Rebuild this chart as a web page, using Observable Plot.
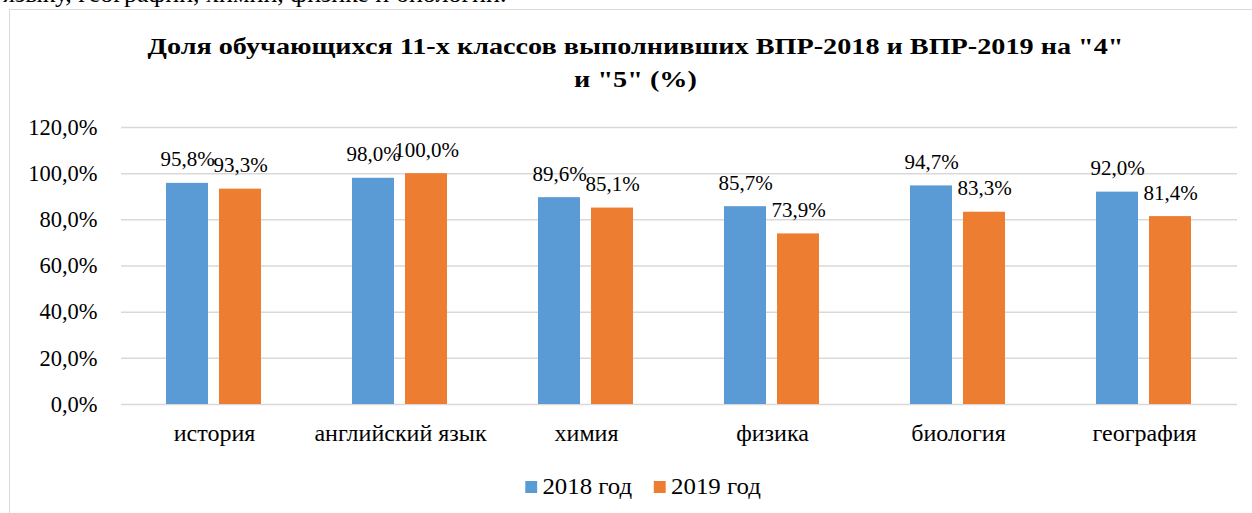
<!DOCTYPE html>
<html>
<head>
<meta charset="utf-8">
<script src="https://cdn.jsdelivr.net/npm/d3@7"></script>
<script src="https://cdn.jsdelivr.net/npm/@observablehq/plot@0.6"></script>
<style>
  html, body { margin: 0; padding: 0; background: #fff; overflow: hidden; width: 1252px; height: 513px; }
  body { position: relative; font-family: "Liberation Serif", "Times New Roman", serif; }
  #prev { position: absolute; left: 3px; top: -21px; font-size: 26px; line-height: 30px; white-space: nowrap; color: #000; }
  #box { position: absolute; left: 9px; top: 9px; width: 1270px; height: 530px; border: 1px solid #d9d9d9; box-sizing: border-box; }
  #title { position: absolute; left: 0; top: 30px; width: 1271px; text-align: center; font-weight: bold; font-size: 24px; line-height: 33px; color: #000; transform: scaleX(1.175); transform-origin: 635.5px 0; }
  #chart { position: absolute; left: 0; top: 100px; }
  #legend { position: absolute; left: 17px; top: 472px; width: 1252px; display: flex; justify-content: center; gap: 20px; font-size: 23px; line-height: 30px; color: #000; transform: scaleX(1.08); transform-origin: 626px 0; }
  .li { display: flex; align-items: center; gap: 5px; }
  .sw { width: 11px; height: 12px; display: inline-block; }
</style>
</head>
<body>
<div id="prev">языку, географии, химии, физике и биологии.</div>
<div id="box"></div>
<div id="title">Доля обучающихся 11-х классов выполнивших ВПР-2018 и ВПР-2019 на "4"<br>и "5" (%)</div>
<div id="chart"></div>
<div id="legend"></div>
<script>
const categories = ["история", "английский язык", "химия", "физика", "биология", "география"];
const series = ["2018 год", "2019 год"];
const values2018 = [95.8, 98.0, 89.6, 85.7, 94.7, 92.0];
const values2019 = [93.3, 100.0, 85.1, 73.9, 83.3, 81.4];
const yTicks = [0, 20, 40, 60, 80, 100, 120];
const colors = ["#5b9bd5", "#ed7d31"];

const data = [];
categories.forEach((c, i) => {
  data.push({cat: c, s: series[0], v: values2018[i]});
  data.push({cat: c, s: series[1], v: values2019[i]});
});
const fmt = v => v.toFixed(1).replace(".", ",") + "%";
const FONT = "'Liberation Serif', 'Times New Roman', serif";

const plot = Plot.plot({
  width: 1252,
  height: 360,
  marginTop: 27,
  marginBottom: 56,
  marginLeft: 121,
  marginRight: 15,
  style: { fontFamily: FONT, fontSize: "22.5px", color: "#000", background: "transparent" },
  fx: { domain: categories, padding: 0, label: null, axis: "bottom", tickSize: 0, tickPadding: 19 },
  x: { domain: series, paddingInner: 0.2075, paddingOuter: 0.849, axis: null },
  y: { domain: [0, 120], ticks: yTicks, tickFormat: fmt, label: null, tickSize: 0, tickPadding: 24 },
  color: { domain: series, range: colors },
  marks: [
    Plot.ruleY(yTicks, { stroke: "#d9d9d9", strokeWidth: 1.5, strokeOpacity: 1 }),
    Plot.barY(data, { fx: "cat", x: "s", y: "v", fill: "s" }),
    Plot.text(data, { fx: "cat", x: "s", y: "v", text: d => fmt(d.v), lineAnchor: "bottom", dy: -17, fill: "#000", fontSize: 21 })
  ]
});
plot.querySelectorAll("[aria-label='fx-axis tick label'] text").forEach(t => t.setAttribute("font-size", "24"));
document.getElementById("chart").appendChild(plot);

const lg = document.getElementById("legend");
series.forEach((s, i) => {
  const item = document.createElement("div");
  item.className = "li";
  const sw = document.createElement("span");
  sw.className = "sw";
  sw.style.background = colors[i];
  const t = document.createElement("span");
  t.textContent = s;
  item.appendChild(sw);
  item.appendChild(t);
  lg.appendChild(item);
});
</script>
</body>
</html>
